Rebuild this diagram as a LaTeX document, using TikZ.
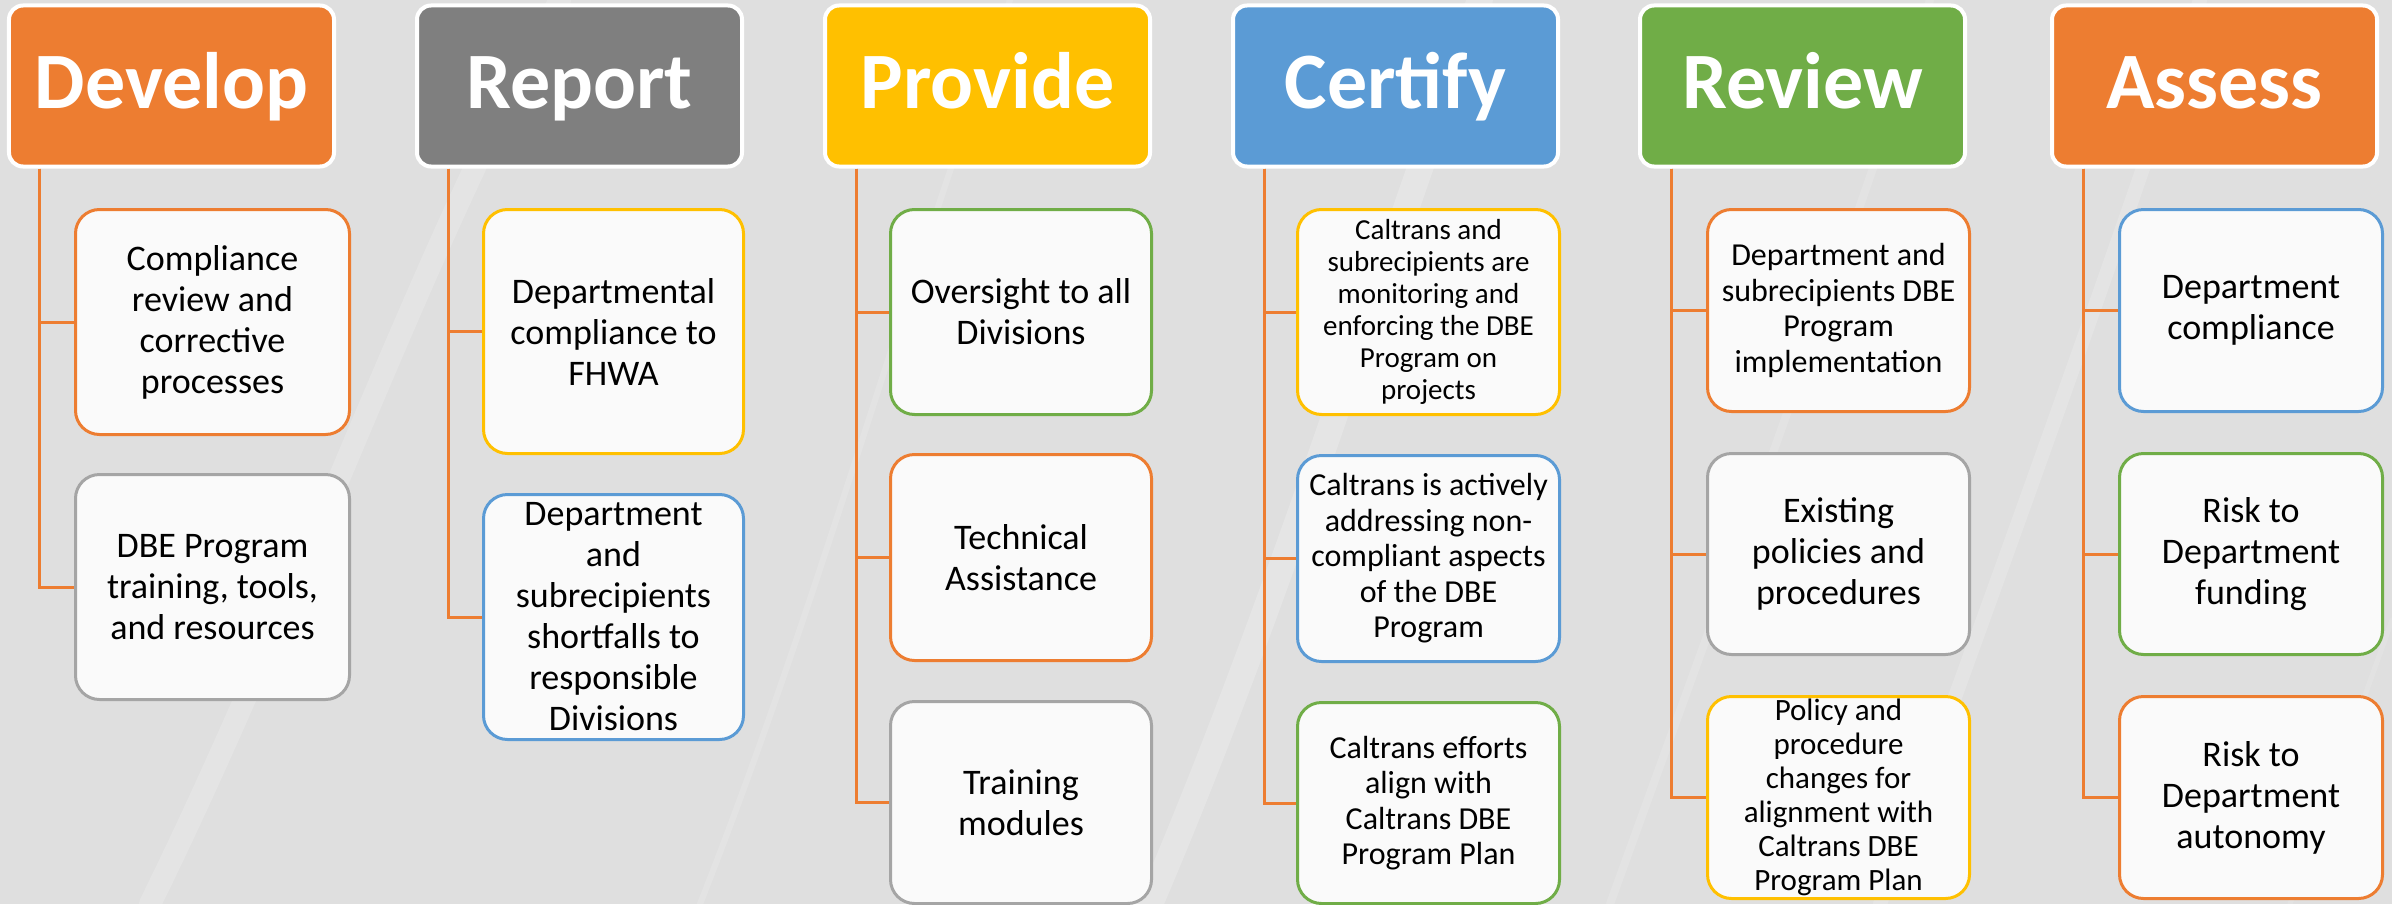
\documentclass[tikz,border=0pt]{standalone}
\usepackage{fontspec}
\setmainfont{Carlito}
\usetikzlibrary{calc}
\pgfdeclarelayer{background}
\pgfsetlayers{background,main}

\definecolor{laranja}{HTML}{ED7D31}
\definecolor{cinza}{HTML}{A5A5A5}
\definecolor{cinzaesc}{HTML}{7F7F7F}
\definecolor{amarelo}{HTML}{FFC000}
\definecolor{azul}{HTML}{5B9BD5}
\definecolor{verde}{HTML}{70AD47}
\definecolor{fundo}{HTML}{DFDFDF}
\definecolor{papel}{HTML}{FAFAFA}

\tikzset{
  cabecalho/.style={draw=white, line width=4bp, rounded corners=14bp, fill=#1,
    text=white, font=\fontsize{80bp}{80bp}\selectfont\bfseries,
    minimum width=325bp, minimum height=161bp, inner sep=0pt,
    text height=56bp, text depth=12bp},
  caixa/.style={draw=#1, line width=3bp, rounded corners=24bp, fill=papel,
    align=center, inner sep=0pt, anchor=north west,
    font=\fontsize{36bp}{41bp}\selectfont},
  media/.style={font=\fontsize{32bp}{35.5bp}\selectfont},
  miuda/.style={font=\fontsize{29bp}{32bp}\selectfont},
  ligacao/.style={draw=laranja, line width=3bp},
  risco/.style={white, opacity=#1, line cap=round},
}

\begin{document}
\begin{tikzpicture}[x=1bp,y=-1bp]
    \useasboundingbox (0,0) rectangle (2392,904);

    % fundo
    \begin{pgfonlayer}{background}
        \fill[fundo] (0,0) rectangle (2392,904);
        \draw[risco=0.18, line width=22bp] (150,904) .. controls (300,600) and (420,250) .. (560,0);
        \draw[risco=0.15, line width=6bp] (700,904) .. controls (820,600) and (900,300) .. (1010,0);
        \draw[risco=0.2, line width=26bp] (1150,904) .. controls (1280,600) and (1370,300) .. (1480,0);
        \draw[risco=0.15, line width=8bp] (1610,904) .. controls (1720,600) and (1830,300) .. (1930,0);
        \draw[risco=0.18, line width=14bp] (1880,904) .. controls (1990,600) and (2100,300) .. (2200,0);
        \draw[risco=0.12, line width=5bp] (2290,904) -- (2392,620);
    \end{pgfonlayer}

    % cabecalhos
    \node[cabecalho=laranja]  (dev) at (171.5,86)  {Develop};
    \node[cabecalho=cinzaesc] (rep) at (579.5,86)  {Report};
    \node[cabecalho=amarelo]  (pro) at (987.5,86)  {Provide};
    \node[cabecalho=azul]     (cer) at (1395.5,86) {Certify};
    \node[cabecalho=verde]    (rev) at (1802.5,86) {Review};
    \node[cabecalho=laranja]  (ass) at (2214.5,86) {Assess};

    % caixas
    \node[caixa=laranja, minimum width=274bp, minimum height=225bp] (dev1) at (74,208)
        {Compliance\\review and\\corrective\\processes};
    \node[caixa=cinza, minimum width=274bp, minimum height=225bp] (dev2) at (74,473)
        {DBE Program\\training, tools,\\and resources};

    \node[caixa=amarelo, minimum width=260bp, minimum height=244bp] (rep1) at (482,208)
        {Departmental\\compliance to\\FHWA};
    \node[caixa=azul, minimum width=260bp, minimum height=245bp] (rep2) at (482,493)
        {Department\\and\\subrecipients\\shortfalls to\\responsible\\Divisions};

    \node[caixa=verde, minimum width=261bp, minimum height=205bp] (pro1) at (889,208)
        {Oversight to all\\Divisions};
    \node[caixa=laranja, minimum width=261bp, minimum height=206bp] (pro2) at (889,453)
        {Technical\\Assistance};
    \node[caixa=cinza, minimum width=261bp, minimum height=202bp] (pro3) at (889,700)
        {Training\\modules};

    \node[caixa=amarelo, miuda, minimum width=262bp, minimum height=205bp] (cer1) at (1296,208)
        {Caltrans and\\subrecipients are\\monitoring and\\enforcing the DBE\\Program on\\projects};
    \node[caixa=azul, media, minimum width=262bp, minimum height=206bp] (cer2) at (1296,454)
        {Caltrans is actively\\addressing non-\\compliant aspects\\of the DBE\\Program};
    \node[caixa=verde, media, minimum width=262bp, minimum height=201bp] (cer3) at (1296,701)
        {Caltrans efforts\\align with\\Caltrans DBE\\Program Plan};

    \node[caixa=laranja, media, minimum width=262bp, minimum height=202bp] (rev1) at (1706,208)
        {Department and\\subrecipients DBE\\Program\\implementation};
    \node[caixa=cinza, minimum width=262bp, minimum height=201bp] (rev2) at (1706,452)
        {Existing\\policies and\\procedures};
    \node[caixa=amarelo, font=\fontsize{31bp}{34bp}\selectfont, minimum width=262bp, minimum height=202bp] (rev3) at (1706,695)
        {Policy and\\procedure\\changes for\\alignment with\\Caltrans DBE\\Program Plan};

    \node[caixa=azul, minimum width=263bp, minimum height=202bp] (ass1) at (2118,208)
        {Department\\compliance};
    \node[caixa=verde, minimum width=263bp, minimum height=201bp] (ass2) at (2118,452)
        {Risk to\\Department\\funding};
    \node[caixa=laranja, minimum width=263bp, minimum height=202bp] (ass3) at (2118,695)
        {Risk to\\Department\\autonomy};

    % ligacoes
    \draw[ligacao] ([xshift=33bp]dev.south west) |- (dev1.west);
    \draw[ligacao] ([xshift=33bp]dev.south west) |- (dev2.west);
    \draw[ligacao] ([xshift=33bp]rep.south west) |- (rep1.west);
    \draw[ligacao] ([xshift=33bp]rep.south west) |- (rep2.west);
    \draw[ligacao] ([xshift=33bp]pro.south west) |- (pro1.west);
    \draw[ligacao] ([xshift=33bp]pro.south west) |- (pro2.west);
    \draw[ligacao] ([xshift=33bp]pro.south west) |- (pro3.west);
    \draw[ligacao] ([xshift=33bp]cer.south west) |- (cer1.west);
    \draw[ligacao] ([xshift=33bp]cer.south west) |- (cer2.west);
    \draw[ligacao] ([xshift=33bp]cer.south west) |- (cer3.west);
    \draw[ligacao] ([xshift=33bp]rev.south west) |- (rev1.west);
    \draw[ligacao] ([xshift=33bp]rev.south west) |- (rev2.west);
    \draw[ligacao] ([xshift=33bp]rev.south west) |- (rev3.west);
    \draw[ligacao] ([xshift=33bp]ass.south west) |- (ass1.west);
    \draw[ligacao] ([xshift=33bp]ass.south west) |- (ass2.west);
    \draw[ligacao] ([xshift=33bp]ass.south west) |- (ass3.west);
\end{tikzpicture}
\end{document}
